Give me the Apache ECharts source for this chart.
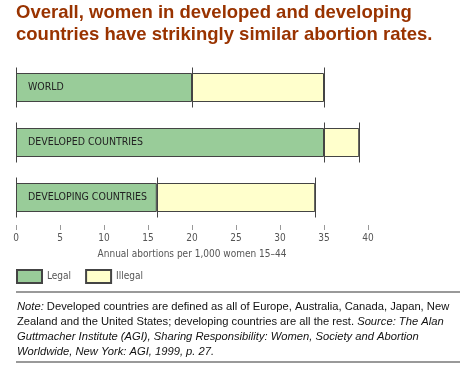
<!DOCTYPE html>
<html><head><meta charset="utf-8">
<script src="https://cdn.jsdelivr.net/npm/echarts@6/dist/echarts.min.js"></script>
<style>html,body{margin:0;padding:0;background:#fff}#c{width:476px;height:368px}</style>
</head><body><div id="c"></div>
<script>
const categories = ['WORLD', 'DEVELOPED COUNTRIES', 'DEVELOPING COUNTRIES'];
const legalRates = [20, 35, 16];
const illegalRates = [15, 4, 18];
const xTicks = [0, 5, 10, 15, 20, 25, 30, 35, 40];
const seriesNames = ['Legal', 'Illegal'];

const narrow = "'Liberation Sans Narrow','DejaVu Sans Condensed',sans-serif";
const arial = "'Liberation Sans',Arial,sans-serif";
const chart = echarts.init(document.getElementById('c'));
const tickData = categories.map((c, i) => [i, legalRates[i], legalRates[i] + illegalRates[i]]);

chart.setOption({
  animation: false,
  title: {
    text: 'Overall, women in developed and developing\ncountries have strikingly similar abortion rates.',
    left: 16, top: 2, padding: 0,
    textStyle: {fontFamily: arial, fontSize: 18.5, fontWeight: 'bold', color: '#993300', lineHeight: 22}
  },
  legend: {
    data: seriesNames, left: 11, top: 264, itemWidth: 25, itemHeight: 13, itemGap: 14,
    icon: 'rect',
    textStyle: {fontFamily: narrow, fontSize: 10, color: '#555'}
  },
  grid: {left: 16, right: 108, top: 60, bottom: 143},
  xAxis: {
    type: 'value', min: xTicks[0], max: xTicks[xTicks.length - 1], interval: 5,
    axisLine: {show: false}, splitLine: {show: false},
    axisTick: {show: true, length: 5, lineStyle: {color: '#999'}},
    axisLabel: {margin: 8, fontFamily: narrow, fontSize: 10, color: '#555'},
    name: 'Annual abortions per 1,000 women 15\u201344', nameLocation: 'middle', nameGap: 24,
    nameTextStyle: {fontFamily: narrow, fontSize: 10, color: '#555'}
  },
  yAxis: {
    type: 'category', data: categories, inverse: true,
    axisLine: {show: false}, axisTick: {show: false}, axisLabel: {show: false}, splitLine: {show: false}
  },
  series: [
    {
      name: seriesNames[0], type: 'bar', stack: 't', barWidth: 29, data: legalRates,
      itemStyle: {color: '#99CC99', borderColor: '#444', borderWidth: 1},
      label: {show: true, position: 'insideLeft', distance: 12, formatter: '{b}', fontFamily: narrow, fontSize: 10.5, color: '#222'}
    },
    {
      name: seriesNames[1], type: 'bar', stack: 't', barWidth: 29, data: illegalRates,
      itemStyle: {color: '#FFFFCC', borderColor: '#444', borderWidth: 1}
    },
    {
      type: 'custom', silent: true, z: 5, data: tickData, encode: {x: [1, 2], y: 0},
      renderItem: function (params, api) {
        const c = api.value(0);
        const p0 = api.coord([0, c]);
        const p1 = api.coord([api.value(1), c]);
        const p2 = api.coord([api.value(2), c]);
        const h = 20;
        const st = {stroke: '#444', lineWidth: 1};
        return {type: 'group', children: [p0, p1, p2].map(p => ({
          type: 'line', shape: {x1: Math.round(p[0]) + 0.5, y1: p[1] - h, x2: Math.round(p[0]) + 0.5, y2: p[1] + h}, style: st
        }))};
      }
    }
  ],
  graphic: [
    {type: 'line', shape: {x1: 16, y1: 292, x2: 460, y2: 292}, style: {stroke: '#999', lineWidth: 2}},
    {type: 'line', shape: {x1: 16, y1: 362, x2: 460, y2: 362}, style: {stroke: '#999', lineWidth: 2}},
    {type: 'text', left: 17, top: 300, style: {
      text: '{i|Note:} Developed countries are defined as all of Europe, Australia, Canada, Japan, New\n' +
            'Zealand and the United States; developing countries are all the rest. {i|Source: The Alan}\n' +
            '{i|Guttmacher Institute (AGI), Sharing Responsibility: Women, Society and Abortion}\n' +
            '{i|Worldwide, New York: AGI, 1999, p. 27.}',
      fontFamily: arial, fontSize: 11.2, lineHeight: 14.7, fill: '#111',
      rich: {i: {fontStyle: 'italic', fontFamily: arial, fontSize: 11.2, lineHeight: 14.7, fill: '#111'}}
    }}
  ]
});
</script></body></html>
